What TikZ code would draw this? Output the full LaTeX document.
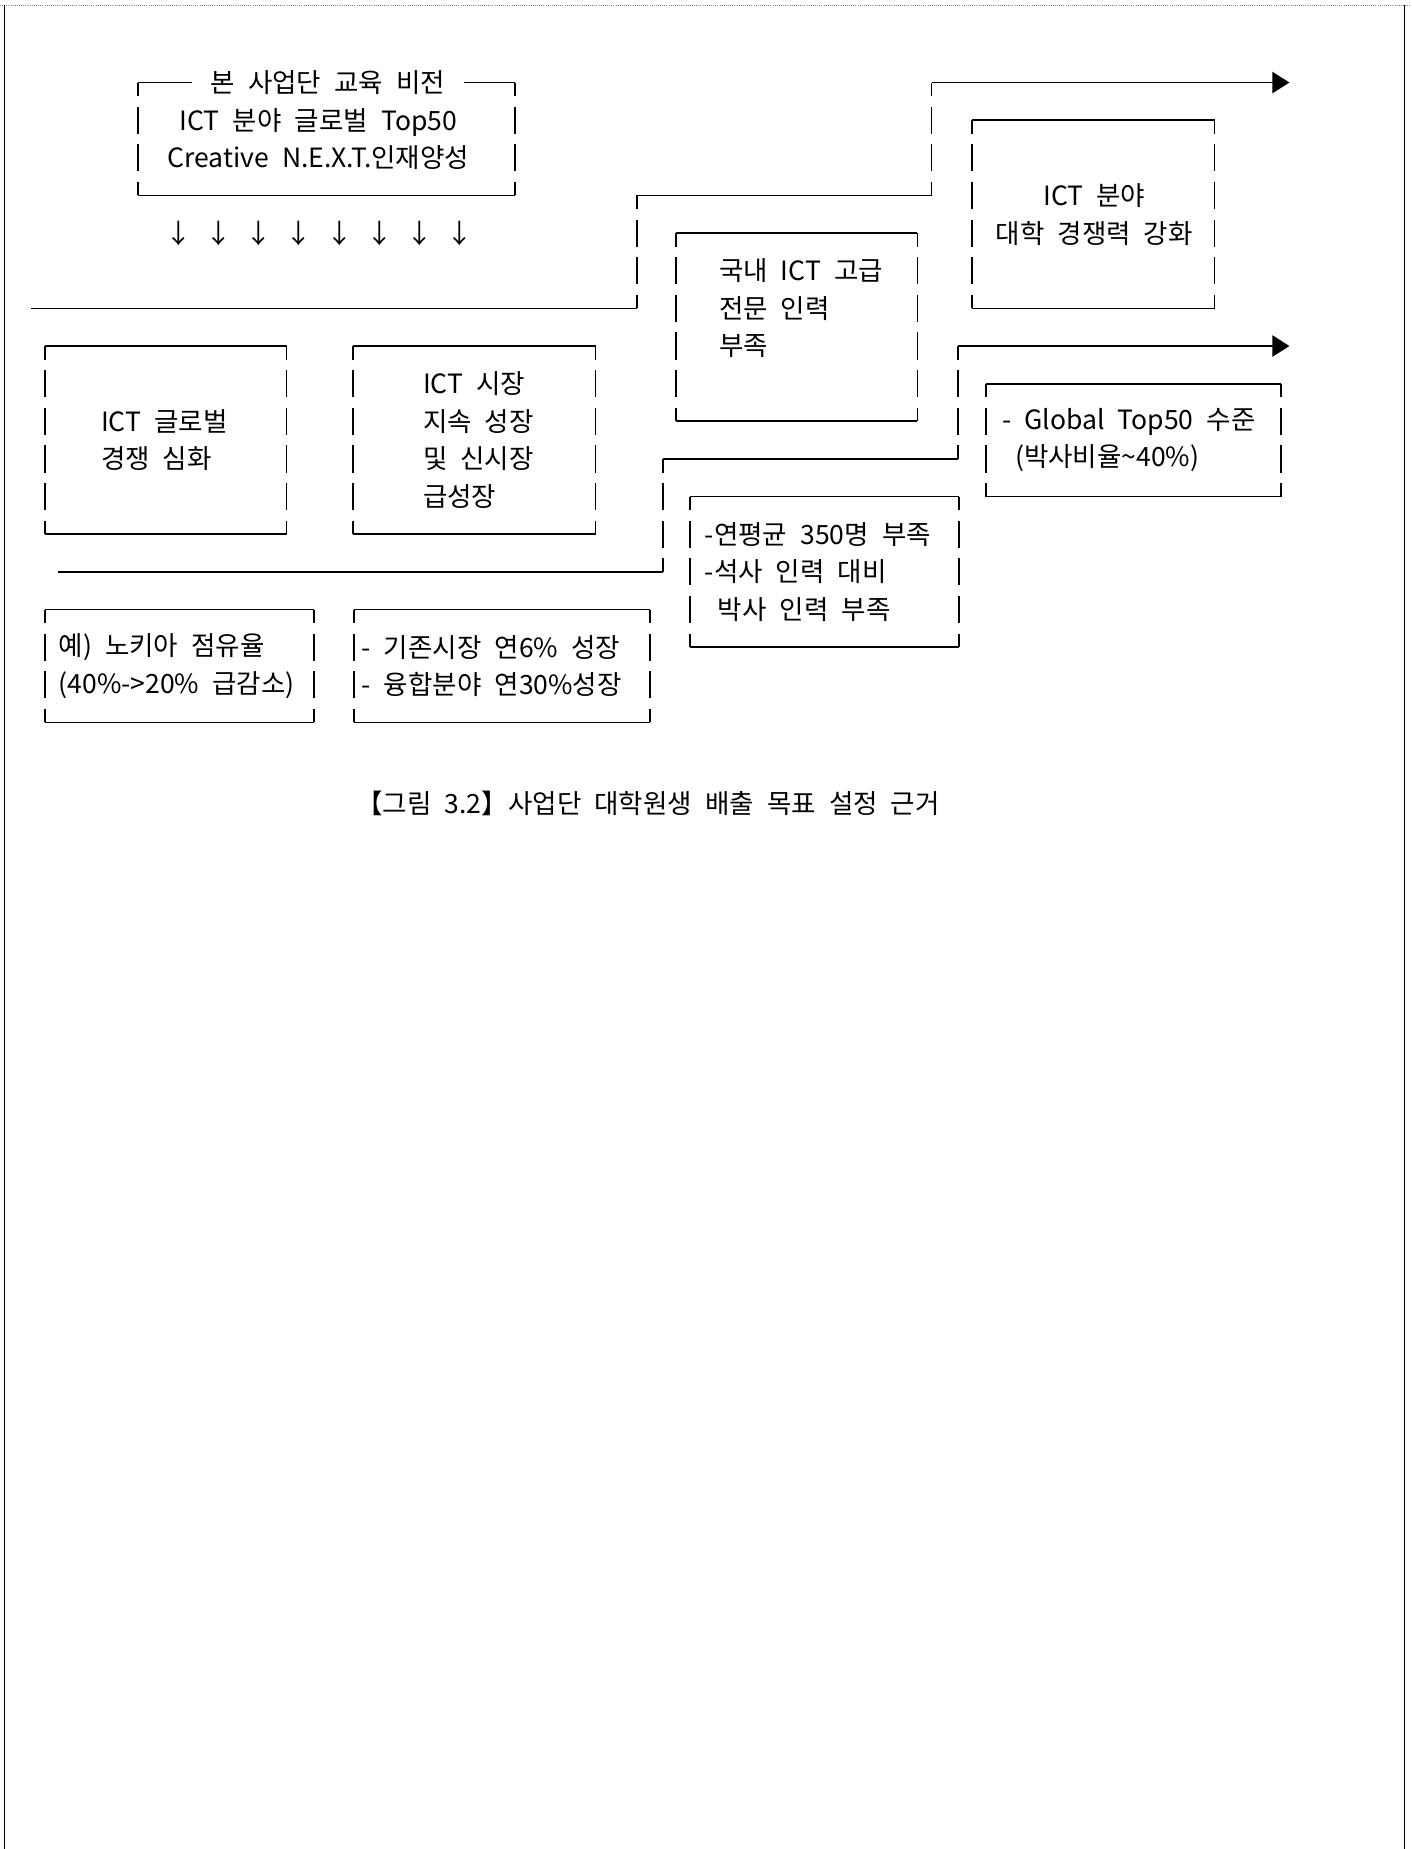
\documentclass[tikz,border=0pt]{standalone}
\usepackage{fontspec}
\setmainfont[WordSpace=2.2]{Noto Sans CJK KR}
\usetikzlibrary{arrows.meta, fit}

\newcommand{\boxlines}[1]{%
  \draw (#1.north west) -- (#1.north east) (#1.south west) -- (#1.south east);
  \draw[bar] (#1.north west) -- (#1.south west) (#1.north east) -- (#1.south east);
}

\begin{document}
\begin{tikzpicture}[x=1pt, y=-31.92pt, line width=1.5pt,
    font=\fontsize{22.5}{31.92}\selectfont,
    box/.style={inner sep=0pt, outer sep=0pt},
    bar/.style={dash pattern=on 23pt off 8.92pt, dash phase=11.5pt},
    txt/.style={anchor=west, align=left, inner sep=0pt},
    mid/.style={align=center, inner sep=0pt},
    tip/.style={-{Triangle[length=14.5pt, width=18pt]}}]

  \useasboundingbox (0,-2.193) rectangle (1197,46.93);

  % page frame
  \draw[densely dotted, gray, line width=0.8pt] (0,-2.06) -- (1197,-2.06);
  \draw (3.8,-2.06) -- (3.8,46.93);
  \draw (1191,-2.06) -- (1191,46.93);

  % vision
  \node[box, fit={(117,0) (437,3)}] (vis) {};
  \node[mid, inner xsep=15pt] (ttl) at (278,0) {본 사업단 교육 비전};
  \node[mid] (vistxt) at (270,1.5) {ICT 분야 글로벌 Top50\\Creative N.E.X.T.인재양성};
  \draw (vis.north west) -- (ttl.west |- vis.north west);
  \draw (ttl.east |- vis.north east) -- (vis.north east);
  \draw (vis.south west) -- (vis.south east);
  \draw[bar] (vis.north west) -- (vis.south west) (vis.north east) -- (vis.south east);

  \foreach \i in {0,...,7}
    \node[mid] (dn\i) at (151.5+34.07*\i,4) {↓};

  % boxes
  \node[box, fit={(573.5,4) (778,9)}] (dom) {};
  \node[txt] (domtxt) at (609,6) {국내 ICT 고급\\전문 인력\\부족};
  \boxlines{dom}

  \node[box, fit={(824,1) (1030,6)}] (univ) {};
  \node[mid] (univtxt) at (928,3.5) {ICT 분야\\대학 경쟁력 강화};
  \boxlines{univ}

  \node[box, fit={(38,7) (243,12)}] (glob) {};
  \node[txt] (globtxt) at (85,9.5) {ICT 글로벌\\경쟁 심화};
  \boxlines{glob}

  \node[box, fit={(299.5,7) (505,12)}] (mkt) {};
  \node[txt] (mkttxt) at (358,9.5) {ICT 시장\\지속 성장\\및 신시장\\급성장};
  \boxlines{mkt}

  \node[box, fit={(38,14) (266,17)}] (nokia) {};
  \node[txt] (nokiatxt) at (49,15.5) {예) 노키아 점유율\\(40\%->20\% 급감소)};
  \boxlines{nokia}

  \node[box, fit={(300,14) (551,17)}] (grow) {};
  \node[txt] (growtxt) at (306,15.5) {- 기존시장 연6\% 성장\\- 융합분야 연30\%성장};
  \boxlines{grow}

  \node[box, fit={(585,11) (813,15)}] (lack) {};
  \node[txt] (lacktxt) at (597,13) {-연평균 350명 부족\\-석사 인력 대비\\~박사 인력 부족};
  \boxlines{lack}

  \node[box, fit={(836,8) (1086.5,11)}] (top50) {};
  \node[txt] (top50txt) at (849,9.5) {- Global Top50 수준\\~(박사비율\textasciitilde 40\%)};
  \boxlines{top50}

  % steps
  \coordinate (l1a) at (26.6,6);
  \coordinate (l1b) at (540,6);
  \coordinate (l1c) at (540,3);
  \coordinate (l1d) at (790,3);
  \coordinate (l1e) at (790,0);
  \coordinate (l1f) at (1093.5,0);
  \path[draw] (l1a) edge (l1b) (l1b) edge[bar] (l1c) (l1c) edge (l1d)
    (l1d) edge[bar] (l1e) (l1e) edge[tip] (l1f);

  \coordinate (l2a) at (49,13);
  \coordinate (l2b) at (562.5,13);
  \coordinate (l2c) at (562.5,10);
  \coordinate (l2d) at (812.5,10);
  \coordinate (l2e) at (812.5,7);
  \coordinate (l2f) at (1093.5,7);
  \path[draw] (l2a) edge (l2b) (l2b) edge[bar] (l2c) (l2c) edge (l2d)
    (l2d) edge[bar] (l2e) (l2e) edge[tip] (l2f);

  \node[mid] (cap) at (549.6,19.14) {【그림 3.2】사업단 대학원생 배출 목표 설정 근거};
\end{tikzpicture}
\end{document}
